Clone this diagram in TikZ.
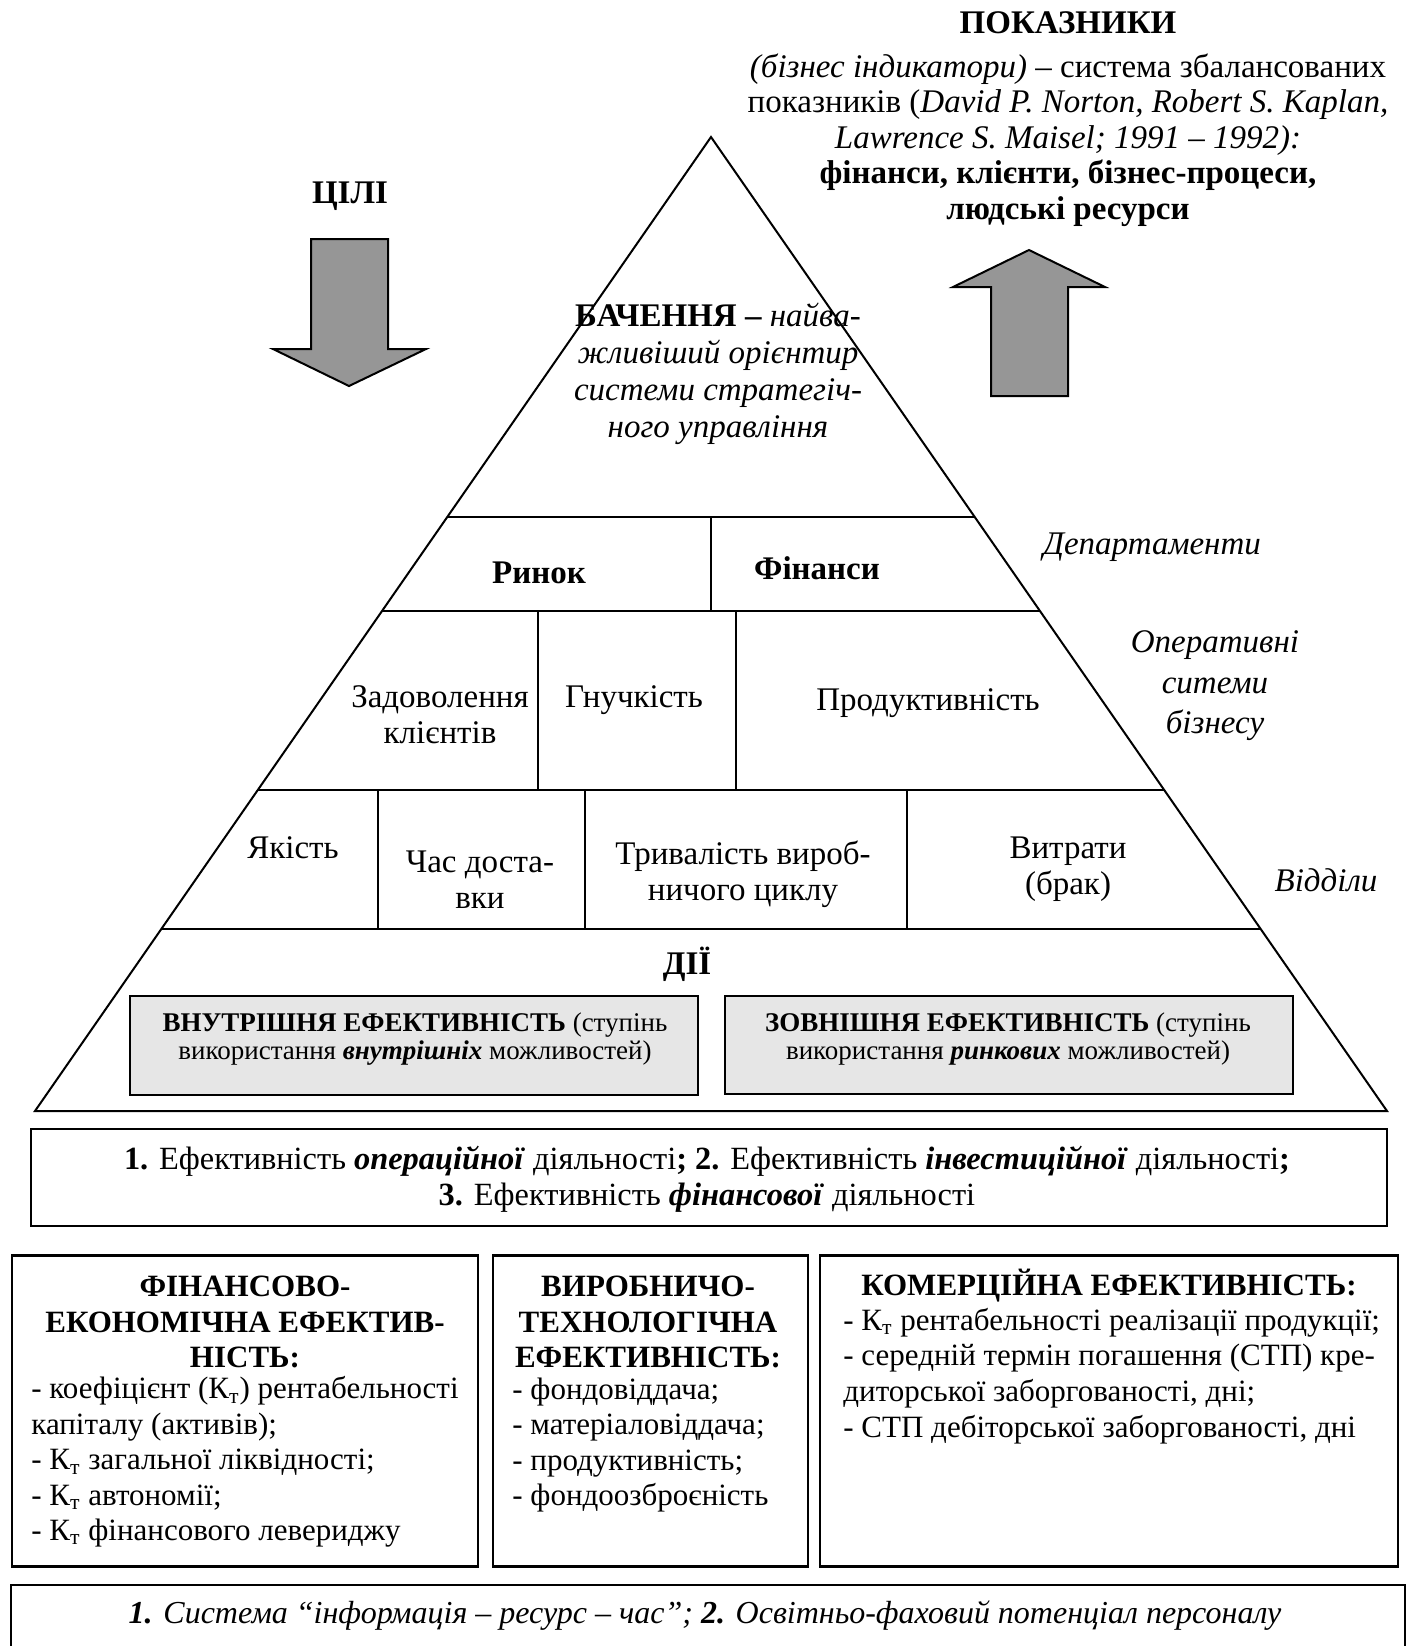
\documentclass[tikz,border=0pt]{standalone}
\usepackage{fontspec}
\setmainfont{Liberation Serif}
\usetikzlibrary{calc}
\definecolor{arrowgrey}{HTML}{969696}
\definecolor{boxgrey}{HTML}{E6E6E6}
\begin{document}
\begin{tikzpicture}[x=0.5pt,y=-0.5pt,
  txt/.style={inner sep=0pt, align=center, font=\fontsize{16.5}{18}\selectfont},
  edgeline/.style={line width=1pt},
  thinline/.style={line width=0.7pt},
  greybox/.style={draw, line width=1pt, fill=boxgrey, inner sep=0pt},
  plainbox/.style={draw, line width=1.2pt, inner sep=0pt},
  arrowshape/.style={draw, line width=1pt, fill=arrowgrey, line join=miter}]
\useasboundingbox (0,0) rectangle (1408,1646);

% arrows
\draw[arrowshape] (311,239)--(388,239)--(388,349)--(426,349)--(349,386)--(273,349)--(311,349)--cycle;
\draw[arrowshape] (991,396)--(1068,396)--(1068,287)--(1105,287)--(1029,250)--(953,287)--(991,287)--cycle;

% pyramid
\coordinate (apex) at (711,137);
\coordinate (BL) at (35,1111);
\coordinate (BR) at (1387,1111);
\draw[edgeline, line join=miter] (apex)--(BL)--(BR)--cycle;
\foreach \t in {0.3901,0.4867,0.6704,0.8131}
  \draw[edgeline] ($(apex)!\t!(BL)$) -- ($(apex)!\t!(BR)$);
\draw[thinline] (711,517)--(711,611);
\draw[thinline] (538,611)--(538,790);
\draw[thinline] (736,611)--(736,790);
\draw[thinline] (378,790)--(378,929);
\draw[thinline] (585,790)--(585,929);
\draw[thinline] (907,790)--(907,929);

% top texts
\node[txt, font=\fontsize{16.5}{17.8}\selectfont\bfseries] (pokaz) at (1068,23) {ПОКАЗНИКИ};
\node[txt, font=\fontsize{16.5}{17.8}\selectfont] (pokaztxt) at (1068,140)
 {\textit{(бізнес індикатори)} – система збалансованих\\
  показників (\textit{David P. Norton, Robert S. Kaplan,}\\
  \textit{Lawrence S. Maisel; 1991 – 1992):}\\
  \textbf{фінанси, клієнти, бізнес-процеси,}\\
  \textbf{людські ресурси}};
\node[txt, font=\fontsize{16.5}{18}\selectfont\bfseries] (cili) at (350,196) {ЦІЛІ};

\node[txt, font=\fontsize{16.5}{18.5}\selectfont\itshape] (bach) at (718,374)
 {{\upshape\bfseries БАЧЕННЯ –} найва-\\жливіший орієнтир\\системи стратегіч-\\ного управління};

% row 1
\node[txt, font=\fontsize{16.5}{18}\selectfont\bfseries] (rynok) at (539,573) {Ринок};
\node[txt, font=\fontsize{16.5}{18}\selectfont\bfseries] (finansy) at (817,568) {Фінанси};
% row 2
\node[txt] (zadov) at (440,715) {Задоволення\\клієнтів};
\node[txt] (gnuch) at (634,700) {Гнучкість};
\node[txt] (produkt) at (928,703) {Продуктивність};
% row 3
\node[txt] (yakist) at (293,848) {Якість};
\node[txt] (chas) at (480,880) {Час доста-\\вки};
\node[txt] (tryv) at (743,874) {Тривалість вироб-\\ничого циклу};
\node[txt] (vytr) at (1068,869) {Витрати\\(брак)};

% right labels
\node[txt, font=\fontsize{16.5}{18}\selectfont\itshape] (dep) at (1152,547) {Департаменти};
\node[txt, font=\fontsize{16.5}{20.25}\selectfont\itshape] (oper) at (1215,686) {Оперативні\\ситеми\\бізнесу};
\node[txt, font=\fontsize{16.5}{18}\selectfont\itshape] (viddily) at (1326,880) {Відділи};

% actions
\node[txt, font=\fontsize{16.5}{18}\selectfont\bfseries] (dii) at (687,964) {ДІЇ};
\node[greybox, minimum width=284pt, minimum height=49.5pt] (inbox) at (414,1045.5) {};
\node[greybox, minimum width=284pt, minimum height=49pt] (outbox) at (1009,1045) {};
\node[txt, font=\fontsize{13.5}{14}\selectfont] (intxt) at (415,1039)
 {\textbf{ВНУТРІШНЯ ЕФЕКТИВНІСТЬ} (ступінь\\використання \textbf{\textit{внутрішніх}} можливостей)};
\node[txt, font=\fontsize{13.5}{14}\selectfont] (outtxt) at (1008,1039)
 {\textbf{ЗОВНІШНЯ ЕФЕКТИВНІСТЬ} (ступінь\\використання \textbf{\textit{ринкових}} можливостей)};

% activity box
\node[plainbox, minimum width=678pt, minimum height=48.5pt] (actbox) at (709,1177.5) {};
\node[txt, font=\fontsize{16.2}{18}\selectfont] (acttxt) at (707,1179)
 {\textbf{1.} Ефективність \textbf{\textit{операційної}} діяльності\textbf{;} \textbf{2.} Ефективність \textbf{\textit{інвестиційної}} діяльності\textbf{;}\\
  \textbf{3.} Ефективність \textbf{\textit{фінансової}} діяльності};

% three boxes
\node[plainbox, minimum width=233pt, minimum height=155.5pt] (boxa) at (245,1411) {};
\node[plainbox, minimum width=157.5pt, minimum height=155.5pt] (boxb) at (650.5,1411) {};
\node[plainbox, minimum width=289pt, minimum height=155.5pt] (boxc) at (1109,1411) {};

\node[txt, font=\fontsize{15.5}{17.6}\selectfont\bfseries] (titlea) at (245,1322)
 {ФІНАНСОВО-\\ЕКОНОМІЧНА ЕФЕКТИВ-\\НІСТЬ:};
\node[txt, align=left, anchor=west, font=\fontsize{15.5}{17.7}\selectfont] (lista) at (31,1462)
 {- коефіцієнт (К\textsubscript{т}) рентабельності\\
  капіталу (активів);\\
  - К\textsubscript{т} загальної ліквідності;\\
  - К\textsubscript{т} автономії;\\
  - К\textsubscript{т} фінансового левериджу};

\node[txt, font=\fontsize{15.5}{17.6}\selectfont\bfseries] (titleb) at (648,1322)
 {ВИРОБНИЧО-\\ТЕХНОЛОГІЧНА\\ЕФЕКТИВНІСТЬ:};
\node[txt, align=left, anchor=west, font=\fontsize{15.5}{17.7}\selectfont] (listb) at (512,1445)
 {- фондовіддача;\\
  - матеріаловіддача;\\
  - продуктивність;\\
  - фондоозброєність};

\node[txt, font=\fontsize{15.5}{17.7}\selectfont\bfseries] (titlec) at (1109,1286)
 {КОМЕРЦІЙНА ЕФЕКТИВНІСТЬ:};
\node[txt, align=left, anchor=west, font=\fontsize{15.5}{17.9}\selectfont] (listc) at (843,1376)
 {- К\textsubscript{т} рентабельності реалізації продукції;\\
  - середній термін погашення (СТП) кре-\\
  диторської заборгованості, дні;\\
  - СТП дебіторської заборгованості, дні};

% bottom box (cut by page edge)
\coordinate (bbl) at (11,1660);
\coordinate (btl) at (11,1585);
\coordinate (btr) at (1405,1585);
\coordinate (bbr) at (1405,1660);
\draw[line width=1.2pt] (bbl)--(btl)--(btr)--(bbr);
\node[txt, font=\fontsize{16}{18}\selectfont\itshape] (systxt) at (705,1616)
 {\textbf{1.} Система “інформація – ресурс – час”; \textbf{2.} Освітньо-фаховий потенціал персоналу};
\end{tikzpicture}
\end{document}
